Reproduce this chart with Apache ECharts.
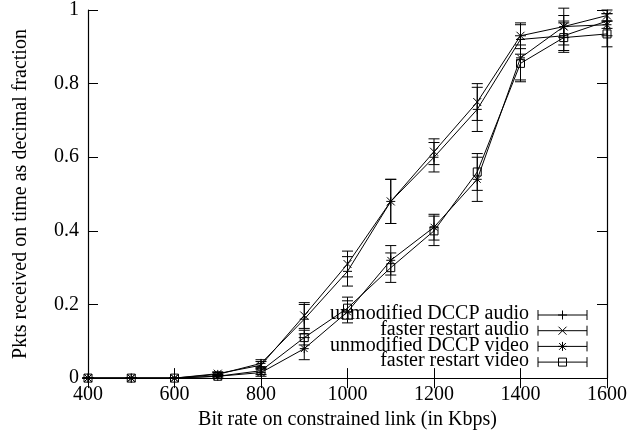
<!DOCTYPE html>
<html>
<head>
    <meta charset="utf-8">
    <script src="https://cdn.jsdelivr.net/npm/echarts@6/dist/echarts.min.js"></script>
    <style>
        body { margin: 0; padding: 0; background: #fff; }
        #chart { width: 638px; height: 435px; }
    </style>
</head>
<body>
    <div id="chart"></div>
    <script>
        // bit rate (Kbps) on x axis
        var bitRates = [400, 500, 600, 700, 800, 900, 1000, 1100, 1200, 1300, 1400, 1500, 1600];

        // fraction of packets on time
        var audioUnmod  = [0, 0, 0, 0.010, 0.040, 0.160, 0.290, 0.480, 0.600, 0.730, 0.920, 0.930, 0.970];
        var audioFaster = [0, 0, 0, 0.012, 0.035, 0.170, 0.310, 0.480, 0.615, 0.750, 0.930, 0.955, 0.985];
        var videoUnmod  = [0, 0, 0, 0.005, 0.015, 0.080, 0.180, 0.320, 0.410, 0.540, 0.870, 0.955, 0.960];
        var videoFaster = [0, 0, 0, 0.005, 0.020, 0.110, 0.190, 0.300, 0.400, 0.560, 0.855, 0.925, 0.935];

        // half-length of the error bars
        var audioUnmodErr  = [0, 0, 0, 0.005, 0.010, 0.040, 0.040, 0.060, 0.040, 0.060, 0.040, 0.040, 0.020];
        var audioFasterErr = [0, 0, 0, 0.005, 0.010, 0.035, 0.035, 0.060, 0.035, 0.050, 0.035, 0.030, 0.015];
        var videoUnmodErr  = [0, 0, 0, 0.005, 0.010, 0.030, 0.030, 0.040, 0.035, 0.060, 0.060, 0.050, 0.030];
        var videoFasterErr = [0, 0, 0, 0.005, 0.010, 0.020, 0.030, 0.040, 0.040, 0.050, 0.050, 0.040, 0.035];

        var seriesNames = ['unmodified DCCP audio', 'faster restart audio', 'unmodified DCCP video', 'faster restart video'];
        var seriesMarks = ['plus', 'cross', 'star', 'square'];
        var seriesValues = [audioUnmod, audioFaster, videoUnmod, videoFaster];
        var seriesErrs = [audioUnmodErr, audioFasterErr, videoUnmodErr, videoFasterErr];

        var FONT = 'Liberation Serif';
        var INK = '#000';

        function seg(x1, y1, x2, y2) {
            return { type: 'line', shape: { x1: x1, y1: y1, x2: x2, y2: y2 }, style: { stroke: INK, lineWidth: 1 } };
        }

        // gnuplot style point types
        function markerShapes(kind, cx, cy) {
            var r = 4.5;
            var out = [];
            if (kind === 'plus' || kind === 'star') {
                out.push(seg(cx - r, cy, cx + r, cy));
                out.push(seg(cx, cy - r, cx, cy + r));
            }
            if (kind === 'cross' || kind === 'star') {
                var d = kind === 'star' ? 3.4 : 4;
                out.push(seg(cx - d, cy - d, cx + d, cy + d));
                out.push(seg(cx - d, cy + d, cx + d, cy - d));
            }
            if (kind === 'square') {
                out.push({ type: 'rect', shape: { x: cx - 4, y: cy - 4, width: 8, height: 8 },
                           style: { fill: 'none', stroke: INK, lineWidth: 1 } });
            }
            return out;
        }

        var chart = echarts.init(document.getElementById('chart'));
        var series = [];
        seriesNames.forEach(function (name, k) {
            var vals = seriesValues[k];
            var errs = seriesErrs[k];
            series.push({
                name: name,
                type: 'line',
                data: bitRates.map(function (b, i) { return [b, vals[i]]; }),
                symbol: 'none',
                lineStyle: { color: INK, width: 1 },
                animation: false,
                z: 2
            });
            series.push({
                name: name + ' bars',
                type: 'custom',
                data: bitRates.map(function (b, i) { return [b, vals[i], vals[i] - errs[i], vals[i] + errs[i]]; }),
                renderItem: function (params, api) {
                    var p = api.coord([api.value(0), api.value(1)]);
                    var lo = api.coord([api.value(0), api.value(2)]);
                    var hi = api.coord([api.value(0), api.value(3)]);
                    var cap = 5.5;
                    var kids = [
                        seg(p[0], lo[1], p[0], hi[1]),
                        seg(p[0] - cap, lo[1], p[0] + cap, lo[1]),
                        seg(p[0] - cap, hi[1], p[0] + cap, hi[1])
                    ].concat(markerShapes(seriesMarks[k], p[0], p[1]));
                    return { type: 'group', children: kids };
                },
                clip: false,
                animation: false,
                z: 3
            });
        });

        // gnuplot-like key: right-aligned text, sample line with caps and marker
        var legendGraphics = [];
        seriesNames.forEach(function (name, k) {
            var y = 315 + k * 15.7;
            legendGraphics.push({
                type: 'text', right: 638 - 529, top: y - 11,
                style: { text: name, font: '20px "Liberation Serif"', fill: INK, textAlign: 'right' }
            });
            legendGraphics.push({
                type: 'group',
                children: [
                    seg(538, y, 587, y),
                    seg(538, y - 5, 538, y + 5),
                    seg(587, y - 5, 587, y + 5)
                ].concat(markerShapes(seriesMarks[k], 562.5, y))
            });
        });

        var axisBase = {
            type: 'value',
            axisLine: { show: true, lineStyle: { color: INK, width: 1.2 } },
            axisTick: { show: true, inside: true, length: 10, lineStyle: { color: INK, width: 1 } },
            splitLine: { show: false }
        };

        chart.setOption({
            animation: false,
            textStyle: { fontFamily: FONT },
            grid: { left: 88, right: 31, top: 10, bottom: 54 },
            xAxis: [
                Object.assign({}, axisBase, {
                    min: 400, max: 1600, interval: 200, position: 'bottom',
                    name: 'Bit rate on constrained link (in Kbps)', nameLocation: 'middle', nameGap: 31,
                    nameTextStyle: { fontSize: 20, color: INK, fontFamily: FONT },
                    axisLabel: { fontSize: 20, color: INK, fontFamily: FONT, margin: 7,
                                 formatter: function (v) { return String(v); } }
                }),
                Object.assign({}, axisBase, {
                    min: 400, max: 1600, interval: 200, position: 'top',
                    axisLabel: { show: false }
                })
            ],
            yAxis: [
                Object.assign({}, axisBase, {
                    min: 0, max: 1, interval: 0.2, position: 'left',
                    name: 'Pkts received on time as decimal fraction', nameLocation: 'middle', nameGap: 57,
                    nameTextStyle: { fontSize: 20, color: INK, fontFamily: FONT },
                    axisLabel: { fontSize: 20, color: INK, fontFamily: FONT, margin: 9,
                                 formatter: function (v) { return String(v); } }
                }),
                Object.assign({}, axisBase, {
                    min: 0, max: 1, interval: 0.2, position: 'right',
                    axisLabel: { show: false }
                })
            ],
            series: series,
            graphic: legendGraphics
        });
    </script>
</body>
</html>
